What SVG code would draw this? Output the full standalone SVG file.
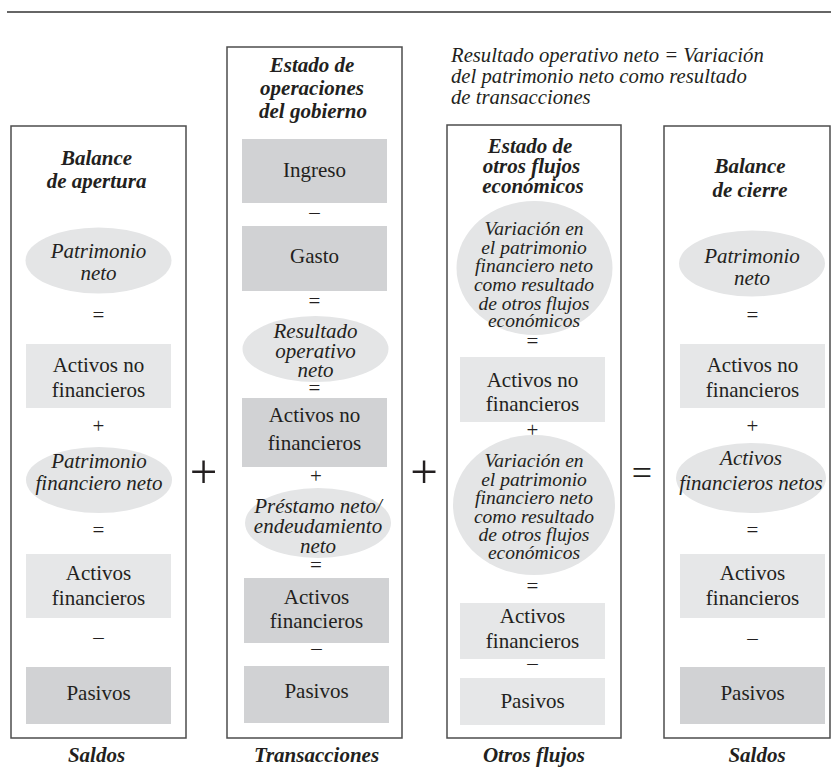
<svg xmlns="http://www.w3.org/2000/svg" width="831" height="779" viewBox="0 0 831 779">
<style>
text{font-family:"Liberation Serif","Times New Roman",serif;fill:#231f20;text-anchor:middle}
.t{font-size:21px;font-weight:bold;font-style:italic}
.r{font-size:21px}
.i{font-size:21px;font-style:italic}
.s{font-size:19.5px;font-style:italic}
.op{font-size:21px}
.box{fill:#fff;stroke:#4d4d4d;stroke-width:1.5}
.dk{fill:#d1d2d4}
.lt{fill:#e6e7e8}
.el{fill:#e4e5e6}
.big{font-size:49px}
.eq{font-size:36px}
.note{font-size:20.7px;font-style:italic;text-anchor:start}
</style>
<rect width="831" height="779" fill="#fff"/>
<line x1="7" y1="12" x2="831" y2="12" stroke="#333" stroke-width="1.5"/>
<text class="note" x="451" y="62">Resultado operativo neto = Variación</text>
<text class="note" x="451" y="83">del patrimonio neto como resultado</text>
<text class="note" x="451" y="104">de transacciones</text>

<g id="col-apertura">
<rect class="box" x="11" y="126" width="175" height="612"/>
<text class="t" x="96.5" y="165">Balance</text>
<text class="t" x="96.5" y="188">de apertura</text>
<ellipse class="el" cx="98.5" cy="260.5" rx="73" ry="33"/>
<text class="i" x="98.5" y="258">Patrimonio</text>
<text class="i" x="98.5" y="280">neto</text>
<text class="op" x="98.5" y="322">=</text>
<rect class="lt" x="26" y="344" width="145" height="64"/>
<text class="r" x="98.5" y="372">Activos no</text>
<text class="r" x="98.5" y="397">financieros</text>
<text class="op" x="98.5" y="433">+</text>
<ellipse class="el" cx="99" cy="480" rx="73" ry="33"/>
<text class="i" x="99" y="468">Patrimonio</text>
<text class="i" x="99" y="490">financiero neto</text>
<text class="op" x="98.5" y="537">=</text>
<rect class="lt" x="26" y="554" width="145" height="64"/>
<text class="r" x="98.5" y="580">Activos</text>
<text class="r" x="98.5" y="605">financieros</text>
<text class="op" x="98.5" y="644">–</text>
<rect class="dk" x="26" y="667" width="145" height="57"/>
<text class="r" x="98.5" y="700">Pasivos</text>
<text class="t" x="96.5" y="762">Saldos</text>
</g>

<g id="col-transacciones">
<rect class="box" x="227" y="47" width="175" height="691"/>
<text class="t" x="312" y="72">Estado de</text>
<text class="t" x="312" y="95">operaciones</text>
<text class="t" x="313" y="118">del gobierno</text>
<rect class="dk" x="242" y="139" width="145" height="64"/>
<text class="r" x="314.5" y="177">Ingreso</text>
<text class="op" x="314.5" y="219">–</text>
<rect class="dk" x="242" y="226" width="145" height="65"/>
<text class="r" x="314.5" y="263">Gasto</text>
<text class="op" x="314.5" y="308">=</text>
<ellipse class="el" cx="315.5" cy="349" rx="73" ry="33"/>
<text class="i" x="315.5" y="338">Resultado</text>
<text class="i" x="315.5" y="358">operativo</text>
<text class="i" x="315.5" y="377">neto</text>
<text class="op" x="314.5" y="395">=</text>
<rect class="dk" x="242" y="398" width="145" height="69"/>
<text class="r" x="314.5" y="422">Activos no</text>
<text class="r" x="314.5" y="450">financieros</text>
<text class="op" x="316" y="483">+</text>
<ellipse class="el" cx="318" cy="523" rx="73" ry="35"/>
<text class="i" x="318" y="513">Préstamo neto/</text>
<text class="i" x="318" y="533">endeudamiento</text>
<text class="i" x="318" y="553">neto</text>
<text class="op" x="316" y="572">=</text>
<rect class="dk" x="244" y="578" width="145" height="65"/>
<text class="r" x="316.5" y="604">Activos</text>
<text class="r" x="316.5" y="628">financieros</text>
<text class="op" x="316.5" y="655">–</text>
<rect class="dk" x="244" y="666" width="145" height="57"/>
<text class="r" x="316.5" y="698">Pasivos</text>
<text class="t" x="316.5" y="762">Transacciones</text>
</g>

<g id="col-otros-flujos">
<rect class="box" x="447" y="125" width="174" height="613"/>
<text class="t" x="530" y="153">Estado de</text>
<text class="t" x="531.5" y="173">otros flujos</text>
<text class="t" x="533" y="193">económicos</text>
<ellipse class="el" cx="534.5" cy="268" rx="78" ry="67"/>
<text class="s" x="534" y="235">Variación en</text>
<text class="s" x="534" y="253.5">el patrimonio</text>
<text class="s" x="534" y="272">financiero neto</text>
<text class="s" x="534" y="291">como resultado</text>
<text class="s" x="534" y="309.5">de otros flujos</text>
<text class="s" x="534" y="327">económicos</text>
<text class="op" x="532.5" y="348">=</text>
<rect class="lt" x="460" y="357" width="145" height="65"/>
<text class="r" x="532.5" y="387">Activos no</text>
<text class="r" x="532.5" y="411">financieros</text>
<text class="op" x="532.5" y="437">+</text>
<ellipse class="el" cx="534" cy="505" rx="81" ry="70"/>
<text class="s" x="534" y="467">Variación en</text>
<text class="s" x="534" y="485.5">el patrimonio</text>
<text class="s" x="534" y="504">financiero neto</text>
<text class="s" x="534" y="522.5">como resultado</text>
<text class="s" x="534" y="541">de otros flujos</text>
<text class="s" x="534" y="559">económicos</text>
<text class="op" x="532.5" y="593">=</text>
<rect class="lt" x="460" y="603" width="145" height="56"/>
<text class="r" x="532.5" y="623">Activos</text>
<text class="r" x="532.5" y="648">financieros</text>
<text class="op" x="532.5" y="670">–</text>
<rect class="lt" x="460" y="678" width="145" height="47"/>
<text class="r" x="532.5" y="708">Pasivos</text>
<text class="t" x="534" y="762">Otros flujos</text>
</g>

<g id="col-cierre">
<rect class="box" x="664" y="126" width="166" height="612"/>
<text class="t" x="750" y="173">Balance</text>
<text class="t" x="750" y="197">de cierre</text>
<ellipse class="el" cx="752" cy="263.5" rx="73" ry="33"/>
<text class="i" x="752" y="263">Patrimonio</text>
<text class="i" x="752" y="285">neto</text>
<text class="op" x="752.5" y="322">=</text>
<rect class="lt" x="680" y="344" width="145" height="64"/>
<text class="r" x="752.5" y="372">Activos no</text>
<text class="r" x="752.5" y="397">financieros</text>
<text class="op" x="752.5" y="433">+</text>
<ellipse class="el" cx="751" cy="478" rx="75" ry="35"/>
<text class="i" x="751" y="465">Activos</text>
<text class="i" x="751" y="490">financieros netos</text>
<text class="op" x="752.5" y="537">=</text>
<rect class="lt" x="680" y="554" width="145" height="64"/>
<text class="r" x="752.5" y="580">Activos</text>
<text class="r" x="752.5" y="605">financieros</text>
<text class="op" x="752.5" y="645">–</text>
<rect class="dk" x="680" y="667" width="145" height="57"/>
<text class="r" x="752.5" y="700">Pasivos</text>
<text class="t" x="757" y="762">Saldos</text>
</g>

<g id="connectors">
<text class="big" x="203.5" y="488">+</text>
<text class="big" x="424" y="488">+</text>
<text class="eq" x="642" y="484.5">=</text>
</g>
</svg>
